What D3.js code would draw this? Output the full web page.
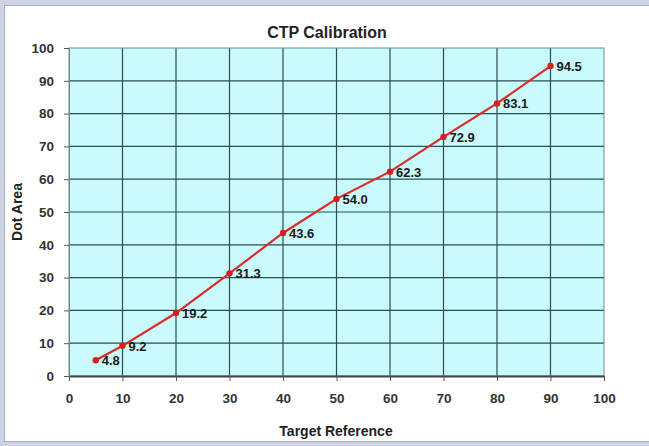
<!DOCTYPE html>
<html>
<head>
<meta charset="utf-8">
<script src="https://cdn.jsdelivr.net/npm/d3@7"></script>
<style>
  body { margin: 0; background: #cdd2e4; }
  svg { display: block; }
  text { font-family: Arial, "Liberation Sans", sans-serif; font-weight: bold; }
</style>
</head>
<body>
<svg id="chart" width="649" height="446"></svg>
<script>
// data
const targetRef = [5, 10, 20, 30, 40, 50, 60, 70, 80, 90];
const dotArea = [4.8, 9.2, 19.2, 31.3, 43.6, 54.0, 62.3, 72.9, 83.1, 94.5];
const xTicks = [0, 10, 20, 30, 40, 50, 60, 70, 80, 90, 100];
const yTicks = [0, 10, 20, 30, 40, 50, 60, 70, 80, 90, 100];

const svg = d3.select('#chart');
const width = 649, height = 446;
const margin = {top: 48, right: 45, bottom: 70, left: 69};
const innerW = width - margin.left - margin.right;
const innerH = height - margin.top - margin.bottom;

// outer frame
svg.append('rect')
  .attr('x', 0).attr('y', 0).attr('width', width).attr('height', height)
  .attr('fill', '#cdd2e4');
svg.append('rect')
  .attr('x', 4.5).attr('y', 5.5).attr('width', width - 4).attr('height', 436)
  .attr('fill', '#fff')
  .attr('stroke', '#a9adb8');

const g = svg.append('g').attr('transform', `translate(${margin.left},${margin.top})`);

const x = d3.scaleLinear().domain([0, 100]).range([0, innerW]);
const y = d3.scaleLinear().domain([0, 100]).range([innerH, 0]);

g.append('rect')
  .attr('width', innerW).attr('height', innerH)
  .attr('fill', '#c9fafc');

// grid
g.selectAll('.vgrid').data(xTicks.slice(1, -1)).enter().append('line')
  .attr('x1', d => x(d)).attr('x2', d => x(d))
  .attr('y1', 0).attr('y2', innerH)
  .attr('stroke', '#2a4f51').attr('stroke-width', 1.2);
g.selectAll('.hgrid').data(yTicks.slice(1, -1)).enter().append('line')
  .attr('y1', d => y(d)).attr('y2', d => y(d))
  .attr('x1', 0).attr('x2', innerW)
  .attr('stroke', '#2a4f51').attr('stroke-width', 1.2);

g.append('rect')
  .attr('width', innerW).attr('height', innerH)
  .attr('fill', 'none').attr('stroke', '#6f8a8c');

// axes
const xAxis = d3.axisBottom(x).tickValues(xTicks).tickSize(5).tickPadding(12).tickSizeOuter(0);
const yAxis = d3.axisLeft(y).tickValues(yTicks).tickSize(5).tickPadding(10).tickSizeOuter(0);

const xg = g.append('g').attr('transform', `translate(0,${innerH})`).call(xAxis);
const yg = g.append('g').call(yAxis);
[xg, yg].forEach(a => {
  a.selectAll('text').attr('font-size', 13.5).attr('fill', '#333')
    .attr('font-family', 'Arial, "Liberation Sans", sans-serif');
  a.selectAll('line').attr('stroke', '#555');
});
xg.select('.domain').attr('stroke', '#444').attr('stroke-width', 2);
yg.select('.domain').attr('stroke', '#6f8a8c');

// line + markers
const pts = targetRef.map((d, i) => ({x: d, y: dotArea[i]}));
const line = d3.line().x(d => x(d.x)).y(d => y(d.y));

g.append('path')
  .datum(pts)
  .attr('d', line)
  .attr('fill', 'none')
  .attr('stroke', '#dd2a2a')
  .attr('stroke-width', 2.2);

g.selectAll('.pt').data(pts).enter().append('circle')
  .attr('cx', d => x(d.x)).attr('cy', d => y(d.y)).attr('r', 3.2)
  .attr('fill', '#d81f1f');

g.selectAll('.lbl').data(pts).enter().append('text')
  .attr('x', d => x(d.x) + 6)
  .attr('y', d => y(d.y) + 5)
  .attr('font-size', 13)
  .attr('fill', '#1a1a1a')
  .text(d => d.y.toFixed(1));

// titles
svg.append('text')
  .attr('x', 327).attr('y', 38)
  .attr('text-anchor', 'middle')
  .attr('font-size', 16)
  .attr('fill', '#222')
  .text('CTP Calibration');

svg.append('text')
  .attr('x', 336).attr('y', 436)
  .attr('text-anchor', 'middle')
  .attr('font-size', 14)
  .attr('fill', '#222')
  .text('Target Reference');

svg.append('text')
  .attr('transform', `translate(22,${margin.top + innerH / 2}) rotate(-90)`)
  .attr('text-anchor', 'middle')
  .attr('font-size', 14)
  .attr('fill', '#222')
  .text('Dot Area');
</script>
</body>
</html>
